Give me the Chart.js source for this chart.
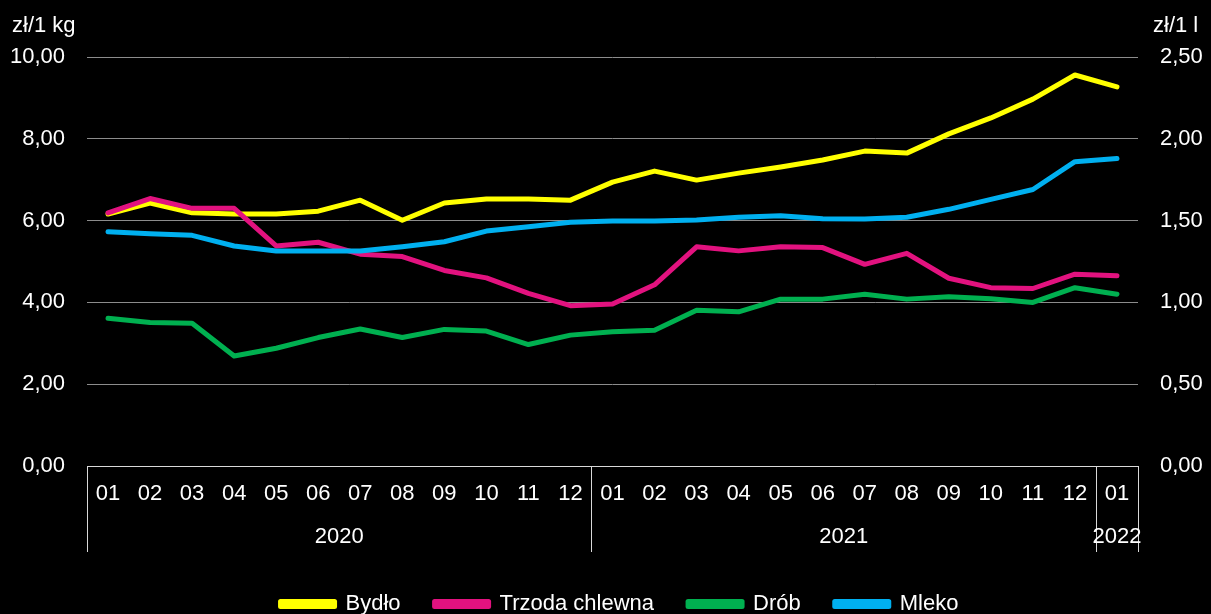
<!DOCTYPE html>
<html>
<head>
<meta charset="utf-8">
<script src="https://cdn.jsdelivr.net/npm/chart.js@4.4.1/dist/chart.umd.min.js"></script>
<style>
  html, body { margin: 0; padding: 0; background: #000; }
  #wrap { width: 1211px; height: 614px; }
</style>
</head>
<body>
<div id="wrap"><canvas id="c" width="1211" height="614"></canvas></div>
<script>
const months = ['01','02','03','04','05','06','07','08','09','10','11','12',
                '01','02','03','04','05','06','07','08','09','10','11','12','01'];
const years = ['2020', '2021', '2022'];
const yearSpans = [12, 12, 1];
const seriesNames = ['Bydło', 'Trzoda chlewna', 'Drób', 'Mleko'];
const bydlo = [6.16, 6.43, 6.19, 6.16, 6.16, 6.23, 6.50, 6.01, 6.43, 6.53, 6.53, 6.50,
               6.94, 7.21, 6.99, 7.16, 7.31, 7.48, 7.70, 7.65, 8.12, 8.51, 8.97, 9.56, 9.27];
const trzoda = [6.19, 6.54, 6.30, 6.30, 5.38, 5.47, 5.18, 5.12, 4.78, 4.60, 4.22, 3.92,
                3.96, 4.43, 5.36, 5.26, 5.36, 5.34, 4.93, 5.20, 4.59, 4.36, 4.34, 4.69, 4.65];
const drob = [3.61, 3.51, 3.49, 2.69, 2.88, 3.14, 3.35, 3.14, 3.34, 3.30, 2.97, 3.20,
              3.28, 3.32, 3.81, 3.77, 4.08, 4.08, 4.20, 4.08, 4.14, 4.09, 4.00, 4.36, 4.20];
const mleko = [1.432, 1.42, 1.41, 1.345, 1.314, 1.314, 1.314, 1.34, 1.371, 1.436, 1.463, 1.49,
               1.497, 1.497, 1.504, 1.52, 1.53, 1.512, 1.51, 1.52, 1.569, 1.63, 1.69, 1.86, 1.88];
const colors = ['#FFFF00', '#E2127F', '#00B050', '#00B0F0'];
const leftUnit = 'zł/1 kg';
const rightUnit = 'zł/1 l';

const FONT = 'Liberation Sans, Arial, sans-serif';
const FS = 22;
const fmt = v => v.toFixed(2).replace('.', ',');

const bgPlugin = {
  id: 'bg',
  beforeDraw(chart) {
    const ctx = chart.ctx;
    ctx.save();
    ctx.fillStyle = '#000';
    ctx.fillRect(0, 0, chart.width, chart.height);
    ctx.restore();
  }
};

const legendShift = {
  id: 'legendShift',
  afterLayout(chart) {
    const lg = chart.legend;
    if (lg) { lg.left += 14; lg.right += 14; }
  }
};

const groupPlugin = {
  id: 'groups',
  afterDraw(chart) {
    const ctx = chart.ctx;
    const x = chart.scales.x;
    const area = chart.chartArea;
    ctx.save();
    ctx.fillStyle = '#fff';
    ctx.font = FS + 'px ' + FONT;
    ctx.textBaseline = 'middle';
    ctx.textAlign = 'left';
    ctx.fillText(leftUnit, 12, 26);
    ctx.fillText(rightUnit, 1153, 26);
    ctx.strokeStyle = '#d9d9d9';
    ctx.lineWidth = 1;
    const bounds = [area.left];
    let idx = 0;
    yearSpans.forEach(n => {
      idx += n;
      if (idx < months.length) {
        bounds.push((x.getPixelForValue(idx - 1) + x.getPixelForValue(idx)) / 2);
      } else {
        bounds.push(area.right);
      }
    });
    bounds.forEach(b => {
      const bx = Math.round(b) + 0.5;
      ctx.beginPath();
      ctx.moveTo(bx, area.bottom);
      ctx.lineTo(bx, area.bottom + 86);
      ctx.stroke();
    });
    ctx.textAlign = 'center';
    years.forEach((y, i) => {
      ctx.fillText(y, (bounds[i] + bounds[i + 1]) / 2, area.bottom + 71);
    });
    ctx.restore();
  }
};

const mk = (label, data, color, axis, order) => ({
  label, data, borderColor: color, backgroundColor: color,
  borderWidth: 5, pointRadius: 0, pointHoverRadius: 0, tension: 0,
  borderCapStyle: 'round', borderJoinStyle: 'round', yAxisID: axis, order
});

new Chart(document.getElementById('c'), {
  type: 'line',
  data: {
    labels: months,
    datasets: [
      mk(seriesNames[0], bydlo, colors[0], 'y', 4),
      mk(seriesNames[1], trzoda, colors[1], 'y', 3),
      mk(seriesNames[2], drob, colors[2], 'y', 2),
      mk(seriesNames[3], mleko, colors[3], 'y2', 1)
    ]
  },
  options: {
    responsive: false,
    animation: false,
    events: [],
    layout: { padding: { top: 57, left: 0, right: 0, bottom: -11 } },
    plugins: {
      tooltip: { enabled: false },
      legend: {
        position: 'bottom',
        labels: {
          color: '#fff',
          font: { family: FONT, size: FS },
          boxWidth: 54,
          boxHeight: 5,
          padding: 34,
          sort: (a, b) => a.datasetIndex - b.datasetIndex
        }
      }
    },
    scales: {
      x: {
        offset: true,
        grid: { display: false, drawTicks: false, offset: true },
        border: { display: true, color: '#d9d9d9', width: 1 },
        ticks: {
          color: '#fff', font: { family: FONT, size: FS },
          maxRotation: 0, autoSkip: false, padding: 15
        },
        afterFit(s) { s.height = 93; }
      },
      y: {
        position: 'left',
        min: 0, max: 10,
        grid: { color: '#8c8c8c', lineWidth: 1, drawTicks: false },
        border: { display: false },
        ticks: {
          stepSize: 2, color: '#fff', font: { family: FONT, size: FS },
          padding: 22, callback: v => fmt(v)
        },
        afterFit(s) { s.width = 87; }
      },
      y2: {
        position: 'right',
        min: 0, max: 2.5,
        grid: { display: false, drawTicks: false },
        border: { display: false },
        ticks: {
          stepSize: 0.5, color: '#fff', font: { family: FONT, size: FS },
          padding: 22, callback: v => fmt(v)
        },
        afterFit(s) { s.width = 73; }
      }
    }
  },
  plugins: [bgPlugin, legendShift, groupPlugin]
});
</script>
</body>
</html>
